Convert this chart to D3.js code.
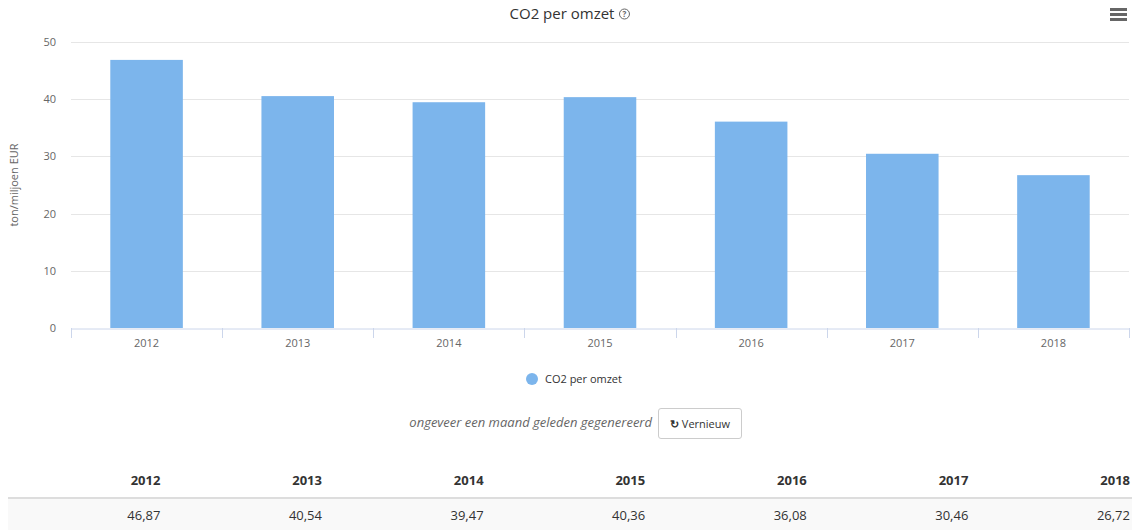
<!DOCTYPE html>
<html>
<head>
<meta charset="utf-8">
<script src="https://cdn.jsdelivr.net/npm/d3@7"></script>
<style>
  body { margin: 0; background: #fff; font-family: "Open Sans", sans-serif; overflow: hidden; }
  #wrap { position: relative; width: 1136px; height: 531px; }
  svg { position: absolute; left: 0; top: 0; }
  .gen { position: absolute; right: 484px; top: 413px; font-style: italic; font-size: 13px; color: #666; }
  .btn { position: absolute; left: 658px; top: 408px; width: 84px; height: 31px; border: 1px solid #ccc; border-radius: 3px;
         font-size: 11px; color: #333; line-height: 29px; text-align: center; box-sizing: border-box; background: #fff; }
  table { position: absolute; left: 8px; top: 463px; width: 1124px; border-collapse: collapse; table-layout: fixed;
          font-size: 13px; color: #333; }
  th { text-align: right; font-weight: bold; height: 34px; border-bottom: 2px solid #ddd; padding: 0 2px 0 0; }
  td { text-align: right; height: 31px; background: #f9f9f9; padding: 0 2px 0 0; }
</style>
</head>
<body>
<div id="wrap">
  <div id="chart"></div>
  <div class="gen">ongeveer een maand geleden gegenereerd</div>
  <div class="btn"><b>&#x21bb;</b> Vernieuw</div>
  <table id="tbl"><colgroup></colgroup><thead><tr></tr></thead><tbody><tr></tr></tbody></table>
</div>
<script>
const years = ["2012", "2013", "2014", "2015", "2016", "2017", "2018"];
const co2 = [46.87, 40.54, 39.47, 40.36, 36.08, 30.46, 26.72];
const yTicks = [0, 10, 20, 30, 40, 50];

const width = 1136, height = 531;
const plotLeft = 71, plotRight = 1129, plotTop = 42, plotBottom = 328;

const svg = d3.select("#chart").append("svg")
  .attr("width", width)
  .attr("height", height)
  .style("font-family", "'Open Sans', sans-serif");

const x = d3.scaleBand().domain(years).range([plotLeft, plotRight]).padding(0);
const y = d3.scaleLinear().domain([0, 50]).range([plotBottom, plotTop]);

// gridlines
svg.append("g")
  .selectAll("line")
  .data(yTicks.filter(d => d > 0))
  .join("line")
  .attr("x1", plotLeft).attr("x2", plotRight)
  .attr("y1", d => Math.round(y(d)) + 0.5).attr("y2", d => Math.round(y(d)) + 0.5)
  .attr("stroke", "#e6e6e6");

// y labels
svg.append("g")
  .attr("font-size", 11)
  .attr("fill", "#666")
  .attr("text-anchor", "end")
  .selectAll("text")
  .data(yTicks)
  .join("text")
  .attr("x", 56)
  .attr("y", d => y(d) + 4)
  .text(d => d);

svg.append("text")
  .attr("transform", `translate(18,${(plotTop + plotBottom) / 2}) rotate(-90)`)
  .attr("text-anchor", "middle")
  .attr("font-size", 11)
  .attr("fill", "#666")
  .text("ton/miljoen EUR");

// bars
const bw = x.bandwidth() * 0.48;
svg.append("g")
  .selectAll("rect")
  .data(years)
  .join("rect")
  .attr("x", d => x(d) + (x.bandwidth() - bw) / 2)
  .attr("y", (d, i) => y(co2[i]))
  .attr("width", bw)
  .attr("height", (d, i) => y(0) - y(co2[i]))
  .attr("fill", "#7cb5ec");

// x axis
const xAxis = svg.append("g")
  .attr("transform", `translate(0,${plotBottom + 0.5})`)
  .call(d3.axisBottom(x).tickSize(0).tickSizeOuter(0));
xAxis.select(".domain").attr("stroke", "#ccd6eb");
xAxis.selectAll("text").attr("font-size", 11).attr("fill", "#666").attr("dy", "1.4em")
  .attr("font-family", "'Open Sans', sans-serif");
svg.append("g")
  .selectAll("line")
  .data(years.map(d => x(d)).concat([plotRight]))
  .join("line")
  .attr("x1", d => Math.round(d) + 0.5).attr("x2", d => Math.round(d) + 0.5)
  .attr("y1", plotBottom).attr("y2", plotBottom + 10)
  .attr("stroke", "#ccd6eb");

// title with question icon
const title = svg.append("text")
  .attr("x", 562).attr("y", 19)
  .attr("text-anchor", "middle")
  .attr("font-size", 15)
  .attr("fill", "#333")
  .text("CO2 per omzet");
const tw = title.node().getComputedTextLength();
const qx = 562 + tw / 2 + 10;
svg.append("circle").attr("cx", qx).attr("cy", 14).attr("r", 5)
  .attr("fill", "none").attr("stroke", "#666").attr("stroke-width", 1);
svg.append("text").attr("x", qx).attr("y", 17).attr("text-anchor", "middle")
  .attr("font-size", 8).attr("font-weight", "bold").attr("fill", "#666").text("?");

// menu icon
svg.append("g")
  .selectAll("rect")
  .data([0, 1, 2])
  .join("rect")
  .attr("x", 1110).attr("y", d => 8 + d * 5)
  .attr("width", 17).attr("height", 3)
  .attr("fill", "#666");

// legend
svg.append("circle").attr("cx", 532).attr("cy", 379).attr("r", 6).attr("fill", "#7cb5ec");
svg.append("text").attr("x", 545).attr("y", 383).attr("font-size", 11).attr("fill", "#333").text("CO2 per omzet");

// table
const colW = [154.4, 161.6, 161.6, 161.6, 161.6, 161.6, 161.6];
d3.select("#tbl colgroup").selectAll("col").data(colW).join("col").style("width", d => d + "px");
d3.select("#tbl thead tr").selectAll("th").data(years).join("th").text(d => d);
d3.select("#tbl tbody tr").selectAll("td").data(co2).join("td")
  .text(d => d.toFixed(2).replace(".", ","));
</script>
</body>
</html>
